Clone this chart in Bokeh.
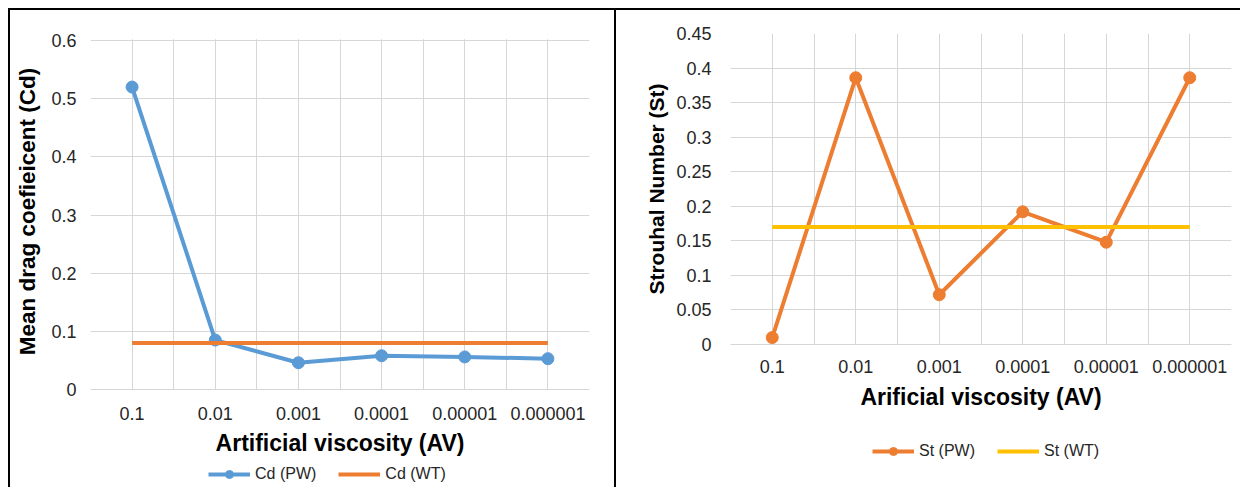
from bokeh.plotting import figure
from bokeh.models import FixedTicker, Legend, LegendItem, Range1d, NumeralTickFormatter, BoxAnnotation
from bokeh.layouts import row, column
from bokeh.embed import file_html
from bokeh.resources import INLINE

# ---- data ----
categories = ["0.1", "0.01", "0.001", "0.0001", "0.00001", "0.000001"]
cd_pw = [0.52, 0.085, 0.046, 0.058, 0.056, 0.053]
cd_wt = [0.08, 0.08, 0.08, 0.08, 0.08, 0.08]
st_pw = [0.01, 0.386, 0.072, 0.192, 0.148, 0.386]
st_wt = [0.17, 0.17, 0.17, 0.17, 0.17, 0.17]
cd_ticks = [0, 0.1, 0.2, 0.3, 0.4, 0.5, 0.6]
st_ticks = [0, 0.05, 0.1, 0.15, 0.2, 0.25, 0.3, 0.35, 0.4, 0.45]

BLUE = "#5B9BD5"
ORANGE = "#ED7D31"
YELLOW = "#FFC000"
GRID = "#D6D6D6"
FONT = "Liberation Sans"

xs = list(range(len(categories)))
bounds = [i - 0.5 for i in range(len(categories) + 1)]


def make_fig(frame_w, frame_h, left, right, top, bottom, yticks, y_end, ytitle, ytitle_size, xtitle,
             xlab_sd, xtitle_sd, ylab_sd, ytitle_sd):
    p = figure(frame_width=frame_w, frame_height=frame_h,
               x_range=Range1d(-0.5, len(categories) - 0.5),
               y_range=Range1d(yticks[0], y_end),
               output_backend="svg", toolbar_location=None,
               min_border_left=left, min_border_right=right,
               min_border_top=top, min_border_bottom=bottom)
    p.outline_line_color = None
    p.background_fill_color = "white"
    p.border_fill_color = "white"
    p.xaxis.ticker = FixedTicker(ticks=xs, minor_ticks=bounds)
    p.xaxis.major_label_overrides = {i: c for i, c in zip(xs, categories)}
    p.yaxis.ticker = FixedTicker(ticks=yticks, minor_ticks=[])
    p.yaxis.formatter = NumeralTickFormatter(format="0.[00]")
    for ax in (p.xaxis[0], p.yaxis[0]):
        ax.major_tick_line_color = None
        ax.minor_tick_line_color = None
        ax.major_tick_out = 0
        ax.major_tick_in = 0
        ax.minor_tick_out = 0
        ax.minor_tick_in = 0
        ax.major_label_text_font = FONT
        ax.major_label_text_font_size = "18px"
        ax.major_label_text_color = "#262626"
        ax.axis_label_text_font = FONT
        ax.axis_label_text_font_style = "bold"
        ax.axis_label_text_color = "black"
    p.xaxis.axis_line_color = GRID
    p.yaxis.axis_line_color = None
    p.xaxis.axis_label = xtitle
    p.xaxis.axis_label_text_font_size = "23px"
    p.xaxis.major_label_standoff = xlab_sd
    p.xaxis.axis_label_standoff = xtitle_sd
    p.yaxis.axis_label = ytitle
    p.yaxis.axis_label_text_font_size = ytitle_size
    p.yaxis.major_label_standoff = ylab_sd
    p.yaxis.axis_label_standoff = ytitle_sd
    p.xgrid.grid_line_color = GRID
    p.xgrid.minor_grid_line_color = GRID
    p.ygrid.grid_line_color = GRID
    return p


def legend_fig(frame_w, left, right, height, entries, loc):
    """A strip below a chart that holds only its legend (its own glyphs lie out of view)."""
    lf = figure(frame_width=frame_w, frame_height=height,
                min_border_left=left, min_border_right=right,
                min_border_top=0, min_border_bottom=0,
                x_range=Range1d(-20, -19), y_range=Range1d(-20, -19),
                x_axis_type=None, y_axis_type=None,
                output_backend="svg", toolbar_location=None)
    lf.outline_line_color = None
    lf.background_fill_color = "white"
    lf.border_fill_color = "white"
    lf.grid.visible = False
    items = []
    for label, series, color, marker in entries:
        rs = [lf.line(xs, series, line_color=color, line_width=4)]
        if marker:
            rs.append(lf.scatter(xs, series, size=11, fill_color=color, line_color=color))
        items.append(LegendItem(label=label, renderers=rs))
    leg = Legend(items=items, orientation="horizontal", location=loc,
                 glyph_width=42, glyph_height=20, label_height=20,
                 label_standoff=5, spacing=22, padding=0, margin=0,
                 border_line_color=None, background_fill_alpha=0,
                 label_text_font=FONT, label_text_font_size="16px",
                 label_text_color="#262626")
    lf.add_layout(leg, "center")
    return lf


# ---- left chart ----
# frames of plots in a row share their top edge, so the left frame starts 7px above its 0.6 line
p1 = make_fig(495, 354, 80, 29, 23, 73, cd_ticks, cd_ticks[-1] * 354 / 347,
              "Mean drag coefieicent (Cd)", "22.5px",
              "Artificial viscosity (AV)", 17, 7, 14, 8)
p1.add_layout(BoxAnnotation(bottom=cd_ticks[-1] * 1.004, fill_color="white", fill_alpha=1,
                            line_color=None, level="underlay"))
p1.line(xs, cd_pw, line_color=BLUE, line_width=4)
p1.scatter(xs, cd_pw, size=12, fill_color=BLUE, line_color=BLUE)
p1.line(xs, cd_wt, line_color=ORANGE, line_width=4)
p1.styles = {"border-top": "2px solid black", "border-left": "2px solid black",
             "border-right": "2px solid black"}
lf1 = legend_fig(495, 80, 29, 27, [("Cd (PW)", cd_pw, BLUE, True), ("Cd (WT)", cd_wt, ORANGE, False)],
                 (118, 3))
lf1.styles = {"border-left": "2px solid black", "border-right": "2px solid black"}

# ---- right chart ----
p2 = make_fig(501, 309, 114, 9, 23, 73, st_ticks, st_ticks[-1],
              "Strouhal Number (St)", "21px",
              "Arificial viscosity (AV)", 15, 8, 19, 5)
p2.line(xs, st_pw, line_color=ORANGE, line_width=4)
p2.scatter(xs, st_pw, size=12, fill_color=ORANGE, line_color=ORANGE)
p2.line(xs, st_wt, line_color=YELLOW, line_width=4)
p2.styles = {"border-top": "2px solid black"}
lf2 = legend_fig(501, 114, 9, 72, [("St (PW)", st_pw, ORANGE, True), ("St (WT)", st_wt, YELLOW, False)],
                 (142, 26))

layout = row(column(p1, lf1, spacing=0), column(p2, lf2, spacing=0), spacing=0,
             styles={"margin-left": "8px", "margin-top": "8px"})
open("out.html", "w").write(file_html(layout, INLINE))
